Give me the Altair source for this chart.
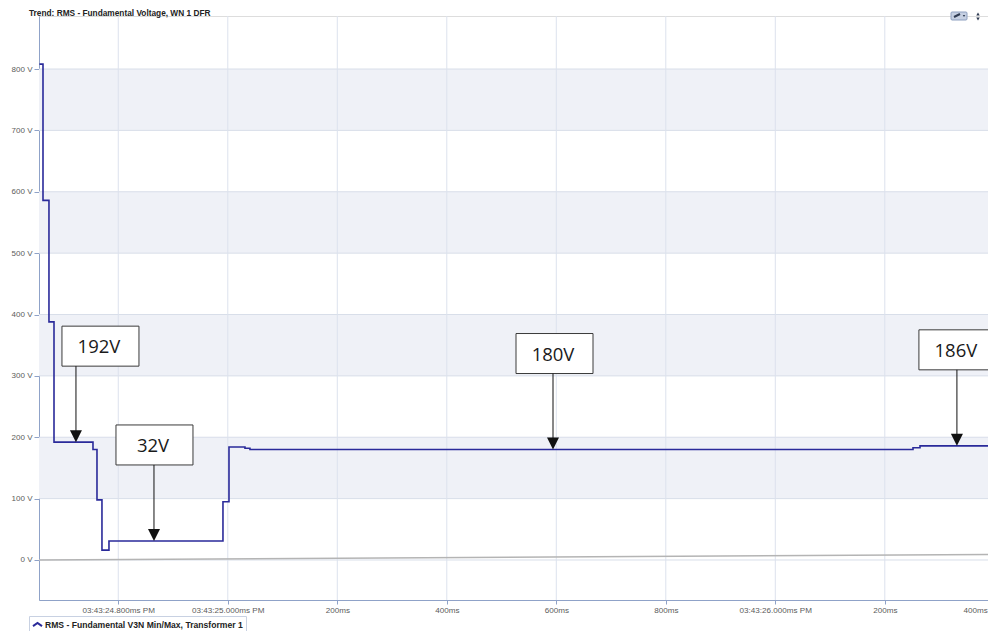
import altair as alt
import pandas as pd

title_text = "Trend: RMS - Fundamental Voltage, WN 1 DFR"
series_name = "RMS - Fundamental V3N Min/Max, Transformer 1"

# main RMS trace (time in seconds within 03:43, volts)
t_main = [24.656, 24.6625, 24.6734, 24.6826, 24.7538, 24.7611, 24.7702, 24.783,
          24.9912, 25.0022, 25.0314, 25.0405, 26.2515, 26.2643, 26.403]
v_main = [808, 586, 388, 192, 180, 98, 16, 31,
          95, 184, 182, 180, 183, 186, 186]

# faint grey reference trace
t_ref = [24.6552, 26.4031]
v_ref = [0, 9]

x_ticks = [24.8, 25.0, 25.2, 25.4, 25.6, 25.8, 26.0, 26.2, 26.4]
x_tick_labels = ["03:43:24.800ms PM", "03:43:25.000ms PM", "200ms", "400ms", "600ms",
                 "800ms", "03:43:26.000ms PM", "200ms", "400ms"]
y_ticks = [0, 100, 200, 300, 400, 500, 600, 700, 800]
band_lo = [100, 300, 500, 700]
band_hi = [200, 400, 600, 800]

ann_labels = ["192V", "32V", "180V", "186V"]
ann_t = [24.7227, 24.8652, 25.594, 26.3317]
ann_v = [192, 31, 180, 186]

x_domain = [24.6552, 26.4031]
y_domain = [-65.2, 886.4]

# ---------------- layout / style ----------------
W, H = 957, 584
NAVY = "#2a2a9a"
AXIS_BLUE = "#8fa2c8"
LABEL_GRAY = "#5b5b5b"
box_shift = [24, 0, 1, 0]

label_expr = " : ".join(
    f"abs(datum.value - {v}) < 0.001 ? '{l}'" for v, l in zip(x_ticks, x_tick_labels)
) + " : ''"
last_tick_test = f"datum.value > {x_ticks[-1] - 0.1}"

xs = alt.Scale(domain=x_domain, nice=False, zero=False)
ys = alt.Scale(domain=y_domain, nice=False, zero=False)

x_axis = alt.Axis(values=x_ticks, labelExpr=label_expr, grid=False, title=None,
                  domainColor=AXIS_BLUE, tickColor=AXIS_BLUE, tickSize=4,
                  labelFont="Liberation Sans", labelFontSize=8.1, labelColor=LABEL_GRAY,
                  labelPadding=2, labelFlush=False, labelOverlap=False,
                  labelAlign={"condition": {"test": last_tick_test, "value": "right"},
                              "value": "center"},
                  labelOffset={"condition": {"test": last_tick_test, "value": -7},
                               "value": 0})
y_axis = alt.Axis(values=y_ticks, labelExpr="datum.value + ' V'", grid=False, title=None,
                  domainColor=AXIS_BLUE, tickColor=AXIS_BLUE, tickSize=5,
                  labelFont="Liberation Sans", labelFontSize=8, labelColor=LABEL_GRAY,
                  labelPadding=2)


def X(f):
    return alt.X(f"{f}:Q", scale=xs, axis=x_axis)


def Y(f):
    return alt.Y(f"{f}:Q", scale=ys, axis=y_axis)


bands = alt.Chart(pd.DataFrame({"lo": band_lo, "hi": band_hi})).mark_rect(
    color="#eff1f7").encode(y=Y("lo"), y2="hi")

hgrid = alt.Chart(pd.DataFrame({"v": y_ticks})).mark_rule(
    color="#d8dee9", strokeWidth=1).encode(y=Y("v"))

vgrid = alt.Chart(pd.DataFrame({"t": x_ticks})).mark_rule(
    color="#dce2ed", strokeWidth=1).encode(x=X("t"))

ref_line = alt.Chart(pd.DataFrame({"t": t_ref, "v": v_ref})).mark_line(
    color="#b4b4b4", strokeWidth=1.5).encode(x=X("t"), y=Y("v"))

main_line = alt.Chart(pd.DataFrame({"t": t_main, "v": v_main,
                                    "series": [series_name] * len(t_main)})).mark_line(
    interpolate="step-after", strokeWidth=1.6).encode(
    x=X("t"), y=Y("v"),
    color=alt.Color("series:N",
                    scale=alt.Scale(domain=[series_name], range=[NAVY]),
                    legend=alt.Legend(orient="none", legendX=-10, legendY=600, title=None,
                                      symbolType="M-1,0.35L0,-0.35L1,0.35", symbolSize=81,
                                      symbolStrokeWidth=2, labelFont="Liberation Sans",
                                      labelFontWeight="bold", labelFontSize=8.6,
                                      labelLimit=600,
                                      labelColor="#222222", fillColor="white",
                                      strokeColor="#c8d1e2", padding=3, labelOffset=2)))

layers = [bands, hgrid, vgrid, ref_line, main_line]

for i in range(len(ann_labels)):
    d = pd.DataFrame({"t": [ann_t[i]], "v": [ann_v[i]], "label": [ann_labels[i]]})
    s = box_shift[i]
    base = alt.Chart(d)
    layers.append(base.mark_rect(fill="white", stroke="#3a3a3a", strokeWidth=1,
                                 xOffset=s - 38, x2Offset=s + 39,
                                 yOffset=-116, y2Offset=-76).encode(
        x=X("t"), x2="t", y=Y("v"), y2="v"))
    layers.append(base.mark_rule(color="#111111", strokeWidth=1,
                                 yOffset=-10, y2Offset=-76).encode(
        x=X("t"), y=Y("v"), y2="v"))
    layers.append(base.mark_point(shape="M-1,-1L1,-1L0,1Z", size=144, filled=True,
                                  color="#111111", opacity=1, yOffset=-6).encode(
        x=X("t"), y=Y("v")))
    layers.append(base.mark_text(font="Open Sans", fontSize=18.5, color="#1a1a1a",
                                 dx=s - 1, dy=-95, baseline="middle", align="center").encode(
        x=X("t"), y=Y("v"), text="label:N"))

# panel title and toolbar decorations (pixel placed, not data)
title_mark = alt.Chart(pd.DataFrame({"txt": [title_text]})).mark_text(
    font="Liberation Sans", fontSize=8.3, fontWeight="bold", color="#222222",
    align="left", baseline="alphabetic").encode(
    x=alt.value(-10), y=alt.value(-0.5), text="txt:N")
tool_btn = alt.Chart(pd.DataFrame({"k": [0]})).mark_rect(
    fill="#c6d0e2", stroke="#8ea0c0", strokeWidth=1, cornerRadius=1).encode(
    x=alt.value(912), x2=alt.value(928), y=alt.value(-4), y2=alt.value(4))
tool_glyph = alt.Chart(pd.DataFrame({"k": [0]})).mark_rule(
    color="#2f3b52", strokeWidth=2).encode(
    x=alt.value(915), x2=alt.value(921), y=alt.value(1), y2=alt.value(-2))
tool_caret = alt.Chart(pd.DataFrame({"k": [0]})).mark_point(
    shape="triangle-down", size=6, filled=True, color="#2f3b52", opacity=1).encode(
    x=alt.value(925), y=alt.value(0))
updown_up = alt.Chart(pd.DataFrame({"k": [0]})).mark_point(
    shape="triangle-up", size=12, filled=True, color="#2f3b52", opacity=1).encode(
    x=alt.value(939), y=alt.value(-2))
updown_dn = alt.Chart(pd.DataFrame({"k": [0]})).mark_point(
    shape="triangle-down", size=12, filled=True, color="#2f3b52", opacity=1).encode(
    x=alt.value(939), y=alt.value(3))
layers += [title_mark, tool_btn, tool_glyph, tool_caret, updown_up, updown_dn]

chart = alt.layer(*layers).properties(
    width=W, height=H,
    autosize=alt.AutoSizeParams(type="none"),
    padding={"left": 31, "top": 8, "right": -8, "bottom": 31},
).configure_view(stroke="#c9cfd9", strokeWidth=1).configure(background="white")

chart.save("out.html", embed_options={"renderer": "svg", "actions": False})
